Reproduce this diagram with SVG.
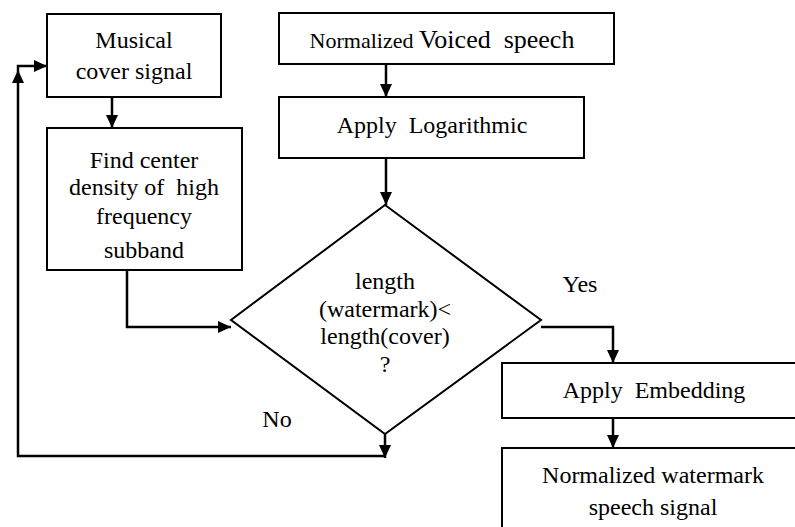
<svg xmlns="http://www.w3.org/2000/svg" width="795" height="527" viewBox="0 0 795 527">
<style>
.box{fill:#fff;stroke:#000;stroke-width:2}
.c{fill:none;stroke:#000;stroke-width:2.5}
</style>
<defs>
<marker id="ah" markerUnits="userSpaceOnUse" markerWidth="14" markerHeight="14" viewBox="0 0 14 14" refX="13" refY="7" orient="auto">
<path d="M0,1 L13,7 L0,13 Z" fill="#000"/>
</marker>
</defs>
<rect width="795" height="527" fill="#fff"/>
<g id="connectors">
<path class="c" d="M112,97 V128" marker-end="url(#ah)"/>
<path class="c" d="M386,158 V205" marker-end="url(#ah)"/>
<path class="c" d="M386,64 V97" marker-end="url(#ah)"/>
<path class="c" d="M127,270 V327 H231" marker-end="url(#ah)"/>
<path class="c" d="M541,327 H613 V363" marker-end="url(#ah)"/>
<path class="c" d="M613,418 V448" marker-end="url(#ah)"/>
<path class="c" d="M385,434 V458" marker-end="url(#ah)"/>
<path class="c" d="M385,456 H18 V66 H47" marker-end="url(#ah)"/>
<path d="M12,83 L18,70 L24,83 Z" fill="#000"/>
<text font-family="Liberation Serif" font-size="24" text-anchor="middle" x="580" y="292">Yes</text>
<text font-family="Liberation Serif" font-size="24" text-anchor="middle" x="277" y="427">No</text>
</g>
<g id="musical">
<rect class="box" x="47" y="14" width="174" height="83"/>
<text font-family="Liberation Serif" font-size="24" text-anchor="middle" x="134" y="48">Musical</text>
<text font-family="Liberation Serif" font-size="24" text-anchor="middle" x="134" y="79">cover signal</text>
</g>
<g id="find-center">
<rect class="box" x="47" y="128" width="195" height="142"/>
<text font-family="Liberation Serif" font-size="24" text-anchor="middle" x="144" y="168">Find center</text>
<text font-family="Liberation Serif" font-size="24" text-anchor="middle" x="144" y="195" xml:space="preserve">density of  high</text>
<text font-family="Liberation Serif" font-size="24" text-anchor="middle" x="144" y="224">frequency</text>
<text font-family="Liberation Serif" font-size="24" text-anchor="middle" x="144" y="258">subband</text>
</g>
<g id="voiced">
<rect class="box" x="279" y="13" width="335" height="51"/>
<text font-family="Liberation Serif" font-size="24" text-anchor="middle" x="442" y="48" xml:space="preserve"><tspan font-size="22">Normalized </tspan><tspan font-size="26">Voiced  speech</tspan></text>
</g>
<g id="log">
<rect class="box" x="279" y="97" width="305" height="61"/>
<text font-family="Liberation Serif" font-size="24" text-anchor="middle" x="432" y="133" xml:space="preserve">Apply  Logarithmic</text>
</g>
<g id="decision">
<polygon class="box" points="385,205 541,320 385,434 231,320"/>
<text font-family="Liberation Serif" font-size="24" text-anchor="middle" x="385" y="289">length</text>
<text font-family="Liberation Serif" font-size="24" text-anchor="middle" x="385" y="317">(watermark)&lt;</text>
<text font-family="Liberation Serif" font-size="24" text-anchor="middle" x="385" y="344">length(cover)</text>
<text font-family="Liberation Serif" font-size="24" text-anchor="middle" x="385" y="372">?</text>
</g>
<g id="embedding">
<rect class="box" x="502" y="363" width="310" height="55"/>
<text font-family="Liberation Serif" font-size="24" text-anchor="middle" x="654" y="398" xml:space="preserve">Apply  Embedding</text>
</g>
<g id="watermark">
<rect class="box" x="502" y="448" width="310" height="100"/>
<text font-family="Liberation Serif" font-size="24" text-anchor="middle" x="653" y="483">Normalized watermark</text>
<text font-family="Liberation Serif" font-size="24" text-anchor="middle" x="653" y="515">speech signal</text>
</g>
</svg>
